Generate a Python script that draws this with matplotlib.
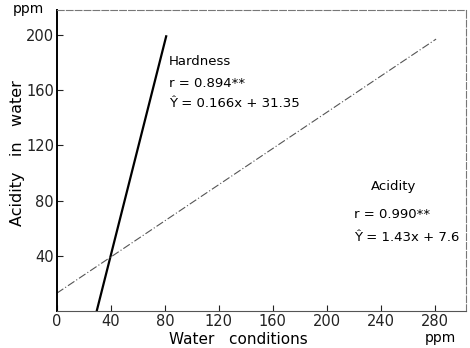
import matplotlib
matplotlib.use("Agg")
import matplotlib.pyplot as plt

# regression lines (endpoints)
hard_x = [29.5, 81]
hard_y = [0, 199]
acid_x = [0, 281]
acid_y = [13, 197]

xticks = [0, 40, 80, 120, 160, 200, 240, 280]
yticks = [40, 80, 120, 160, 200]

plt.rcParams['font.family'] = ['DejaVu Sans']
fig = plt.figure(figsize=(4.7, 3.48), dpi=100)
ax = fig.add_axes([0.121, 0.106, 0.870, 0.865])

ax.plot(hard_x, hard_y, color="black", lw=1.6)
ax.plot(acid_x, acid_y, color="#555555", lw=0.8, dashes=(7, 2, 1, 2))

ax.set_xlim(0, 303)
ax.set_ylim(0, 218)
ax.set_xticks(xticks)
ax.set_yticks(yticks)
ax.tick_params(direction="in", length=4, labelsize=10.5, colors="#222222", pad=2)
for s in ["top", "right"]:
    ax.spines[s].set_linewidth(0.8)
    ax.spines[s].set_color("#777777")
    ax.spines[s].set_linestyle((0, (6, 2)))
ax.spines["left"].set_linewidth(1.4)
ax.spines["bottom"].set_linewidth(0.8)
ax.spines["bottom"].set_color("#555555")

ax.set_xlabel("Water   conditions", fontsize=11)
ax.xaxis.set_label_coords(0.445, -0.068)
ax.set_ylabel("Acidity   in   water", fontsize=11.5)
ax.yaxis.set_label_coords(-0.078, 0.525)
fig.text(0.06, 0.975, "ppm", fontsize=10, ha="center", va="center")
fig.text(0.937, 0.03, "ppm", fontsize=10, ha="center", va="center")

ax.text(83, 181, "Hardness", fontsize=9.5, va="center")
ax.text(83, 165, "r = 0.894**", fontsize=9.5, va="center")
ax.text(83, 150, "Ŷ = 0.166x + 31.35", fontsize=9.5, va="center")
ax.text(233, 90, "Acidity", fontsize=9.5, va="center")
ax.text(220, 70, "r = 0.990**", fontsize=9.5, va="center")
ax.text(220, 53, "Ŷ = 1.43x + 7.6", fontsize=9.5, va="center")

fig.savefig("out.png", dpi=100)
